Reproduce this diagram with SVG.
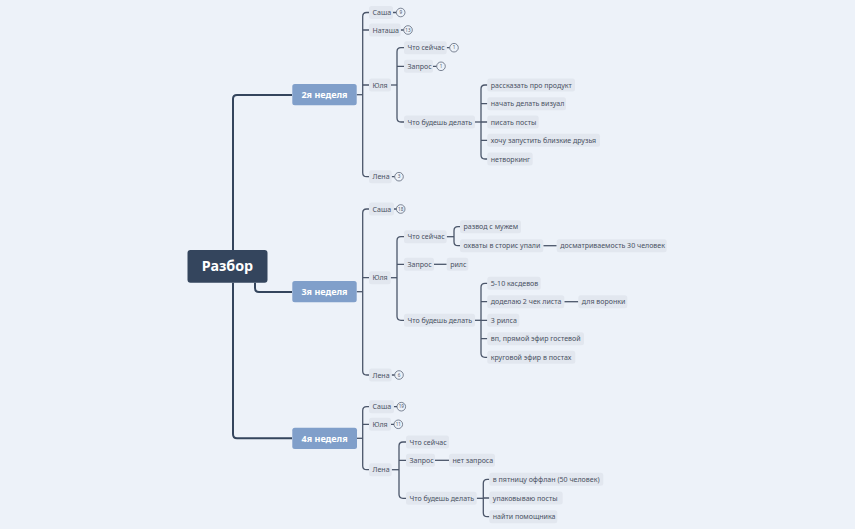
<svg xmlns="http://www.w3.org/2000/svg" width="855" height="529" viewBox="0 0 855 529">
<style>
.bg{fill:#edf2f9}
.n rect{fill:#e2e7ef}
.n text{font-family:"Noto Sans","Open Sans",sans-serif;font-size:7.05px;fill:#4a5263}
.w rect{fill:#809fca}
.w text{font-family:"Noto Sans","Open Sans",sans-serif;font-size:9px;font-weight:bold;fill:#ffffff;text-anchor:middle}
.c path{fill:none;stroke:#4b566a;stroke-width:1.3}
.c path.t{stroke:#34455d;stroke-width:2}
.b circle{fill:#edf2f9;stroke:#4b566a;stroke-width:0.7}
.b text{font-family:"Noto Sans",sans-serif;font-size:4.6px;fill:#4b566a;text-anchor:middle}
</style>
<rect class="bg" x="0" y="0" width="855" height="529"/>
<g id="connectors" class="c">
<path class="t" d="M233 250 V99 Q233 95 237 95 H292"/>
<path class="t" d="M255 282.7 V288 Q255 292 259 292 H292"/>
<path class="t" d="M233 282.7 V434 Q233 438.3 237 438.3 H292"/>
<path d="M356.7 94.7 H362.7"/>
<path d="M369 12.5 H366.7 Q362.7 12.5 362.7 16.5 V172.7 Q362.7 176.7 366.7 176.7 H369"/>
<path d="M362.7 30 H369 M362.7 85 H369"/>
<path d="M391 85 H397"/>
<path d="M404 47.7 H401 Q397 47.7 397 51.7 V118 Q397 122 401 122 H404 M397 66.3 H404"/>
<path d="M475 122 H481"/>
<path d="M487.3 85 H485 Q481 85 481 89 V155 Q481 159 485 159 H487.3 M481 103.7 H487.3 M481 122 H487.3 M481 140.3 H487.3"/>
<path d="M393 12.5 H396.4 M400.7 30 H403.7 M446.7 47.7 H449.7 M433 66.3 H436.7 M391.7 176.7 H394.7"/>
<path d="M356.7 291.7 H362.7"/>
<path d="M369 209 H366.7 Q362.7 209 362.7 213 V371 Q362.7 375 366.7 375 H369 M362.7 277.7 H369"/>
<path d="M390.7 277.7 H397"/>
<path d="M404 236.7 H401 Q397 236.7 397 240.7 V316.3 Q397 320.3 401 320.3 H404 M397 264.3 H404"/>
<path d="M446.7 236.7 H454"/>
<path d="M460 226.7 H458 Q454 226.7 454 230.7 V241.7 Q454 245.7 458 245.7 H460"/>
<path d="M543.3 245.7 H556.7"/>
<path d="M434 264.3 H446.7"/>
<path d="M475 320.3 H481"/>
<path d="M487.3 283.3 H485 Q481 283.3 481 287.3 V353.3 Q481 357.3 485 357.3 H487.3 M481 301.7 H487.3 M481 320.3 H487.3 M481 338.7 H487.3"/>
<path d="M564.3 301.7 H578.3"/>
<path d="M394 209 H396.4 M391.7 375 H394.7"/>
<path d="M357 438.3 H362.7"/>
<path d="M369 406.7 H366.7 Q362.7 406.7 362.7 410.7 V465.7 Q362.7 469.7 366.7 469.7 H369 M362.7 424.3 H369"/>
<path d="M391.7 469.7 H399"/>
<path d="M406 442 H403 Q399 442 399 446 V494.3 Q399 498.3 403 498.3 H406 M399 460.3 H406"/>
<path d="M435 460.3 H449"/>
<path d="M476.7 498.3 H483.3"/>
<path d="M489.3 479.3 H487.3 Q483.3 479.3 483.3 483.3 V512.7 Q483.3 516.7 487.3 516.7 H489.3 M483.3 498 H489.3"/>
<path d="M394 406.7 H397 M391 424.3 H394"/>
</g>
<g id="root"><rect x="187.5" y="250" width="80" height="32.7" rx="3" fill="#34455d"/><text x="227.5" y="271.3" font-family="Noto Sans,Open Sans,sans-serif" font-size="14.3" font-weight="bold" fill="#ffffff" text-anchor="middle">Разбор</text></g>
<g id="w2" class="w"><rect x="292.3" y="84" width="64.4" height="21.3" rx="2.5"/><text x="324.5" y="97.9">2я неделя</text></g>
<g id="w3" class="w"><rect x="292.3" y="281" width="64.4" height="21.3" rx="2.5"/><text x="324.5" y="294.9">3я неделя</text></g>
<g id="w4" class="w"><rect x="292.3" y="427.7" width="64.7" height="21.3" rx="2.5"/><text x="324.6" y="441.6">4я неделя</text></g>
<g id="w2-sasha" class="n"><rect x="369" y="6" width="24" height="13" rx="2.5"/><text x="372.5" y="15">Саша</text></g>
<g id="w2-natasha" class="n"><rect x="369" y="23.5" width="31.7" height="13" rx="2.5"/><text x="372.5" y="32.5">Наташа</text></g>
<g id="w2-yulya" class="n"><rect x="369" y="78.5" width="22" height="13" rx="2.5"/><text x="372.5" y="87.5">Юля</text></g>
<g id="w2-yulya-now" class="n"><rect x="404" y="41.2" width="42.7" height="13" rx="2.5"/><text x="407.5" y="50.2">Что сейчас</text></g>
<g id="w2-yulya-req" class="n"><rect x="404" y="59.8" width="29" height="13" rx="2.5"/><text x="407.5" y="68.8">Запрос</text></g>
<g id="w2-yulya-do" class="n"><rect x="404" y="115.5" width="71" height="13" rx="2.5"/><text x="407.5" y="124.5">Что будешь делать</text></g>
<g id="w2-do1" class="n"><rect x="487.3" y="78.5" width="87.7" height="13" rx="2.5"/><text x="490.8" y="87.5">рассказать про продукт</text></g>
<g id="w2-do2" class="n"><rect x="487.3" y="97.2" width="78.7" height="13" rx="2.5"/><text x="490.8" y="106.2">начать делать визуал</text></g>
<g id="w2-do3" class="n"><rect x="487.3" y="115.5" width="51.4" height="13" rx="2.5"/><text x="490.8" y="124.5">писать посты</text></g>
<g id="w2-do4" class="n"><rect x="487.3" y="133.8" width="112.7" height="13" rx="2.5"/><text x="490.8" y="142.8">хочу запустить близкие друзья</text></g>
<g id="w2-do5" class="n"><rect x="487.3" y="152.5" width="45.4" height="13" rx="2.5"/><text x="490.8" y="161.5">нетворкинг</text></g>
<g id="w2-lena" class="n"><rect x="369" y="170.2" width="22.7" height="13" rx="2.5"/><text x="372.5" y="179.2">Лена</text></g>
<g id="badges-w2" class="b">
<circle cx="400.7" cy="12.5" r="4.3"/><text x="400.7" y="14.2">9</text>
<circle cx="408" cy="30" r="4.3"/><text x="408" y="31.7">13</text>
<circle cx="454" cy="47.7" r="4.3"/><text x="454" y="49.4">1</text>
<circle cx="441" cy="66.3" r="4.3"/><text x="441" y="68">1</text>
<circle cx="399" cy="176.7" r="4.3"/><text x="399" y="178.4">3</text>
</g>
<g id="w3-sasha" class="n"><rect x="369" y="202.5" width="25" height="13" rx="2.5"/><text x="372.5" y="211.5">Саша</text></g>
<g id="w3-yulya" class="n"><rect x="369" y="271.2" width="21.7" height="13" rx="2.5"/><text x="372.5" y="280.2">Юля</text></g>
<g id="w3-yulya-now" class="n"><rect x="404" y="230.2" width="42.7" height="13" rx="2.5"/><text x="407.5" y="239.2">Что сейчас</text></g>
<g id="w3-now1" class="n"><rect x="460" y="220.2" width="61" height="13" rx="2.5"/><text x="463.5" y="229.2">развод с мужем</text></g>
<g id="w3-now2" class="n"><rect x="460" y="239.2" width="83.3" height="13" rx="2.5"/><text x="463.5" y="248.2">охваты в сторис упали</text></g>
<g id="w3-now2a" class="n"><rect x="556.7" y="239.2" width="110" height="13" rx="2.5"/><text x="560.2" y="248.2">досматриваемость 30 человек</text></g>
<g id="w3-yulya-req" class="n"><rect x="404" y="257.8" width="30" height="13" rx="2.5"/><text x="407.5" y="266.8">Запрос</text></g>
<g id="w3-req1" class="n"><rect x="446.7" y="257.8" width="21.6" height="13" rx="2.5"/><text x="450.2" y="266.8">рилс</text></g>
<g id="w3-yulya-do" class="n"><rect x="404" y="313.8" width="71" height="13" rx="2.5"/><text x="407.5" y="322.8">Что будешь делать</text></g>
<g id="w3-do1" class="n"><rect x="487.3" y="276.8" width="53.4" height="13" rx="2.5"/><text x="490.8" y="285.8">5-10 касдевов</text></g>
<g id="w3-do2" class="n"><rect x="487.3" y="295.2" width="77" height="13" rx="2.5"/><text x="490.8" y="304.2">доделаю 2 чек листа</text></g>
<g id="w3-do2a" class="n"><rect x="578.3" y="295.2" width="49" height="13" rx="2.5"/><text x="581.8" y="304.2">для воронки</text></g>
<g id="w3-do3" class="n"><rect x="487.3" y="313.8" width="32" height="13" rx="2.5"/><text x="490.8" y="322.8">3 рилса</text></g>
<g id="w3-do4" class="n"><rect x="487.3" y="332.2" width="96.7" height="13" rx="2.5"/><text x="490.8" y="341.2">вп, прямой эфир гостевой</text></g>
<g id="w3-do5" class="n"><rect x="487.3" y="350.8" width="88" height="13" rx="2.5"/><text x="490.8" y="359.8">круговой эфир в постах</text></g>
<g id="w3-lena" class="n"><rect x="369" y="368.5" width="22.7" height="13" rx="2.5"/><text x="372.5" y="377.5">Лена</text></g>
<g id="badges-w3" class="b">
<circle cx="400.7" cy="209" r="4.3"/><text x="400.7" y="210.7">18</text>
<circle cx="399" cy="375" r="4.3"/><text x="399" y="376.7">6</text>
</g>
<g id="w4-sasha" class="n"><rect x="369" y="400.2" width="25" height="13" rx="2.5"/><text x="372.5" y="409.2">Саша</text></g>
<g id="w4-yulya" class="n"><rect x="369" y="417.8" width="22" height="13" rx="2.5"/><text x="372.5" y="426.8">Юля</text></g>
<g id="w4-lena" class="n"><rect x="369" y="463.2" width="22.7" height="13" rx="2.5"/><text x="372.5" y="472.2">Лена</text></g>
<g id="w4-lena-now" class="n"><rect x="406" y="435.5" width="43" height="13" rx="2.5"/><text x="409.5" y="444.5">Что сейчас</text></g>
<g id="w4-lena-req" class="n"><rect x="406" y="453.8" width="29" height="13" rx="2.5"/><text x="409.5" y="462.8">Запрос</text></g>
<g id="w4-req1" class="n"><rect x="449" y="453.8" width="46" height="13" rx="2.5"/><text x="452.5" y="462.8">нет запроса</text></g>
<g id="w4-lena-do" class="n"><rect x="406" y="491.8" width="70.7" height="13" rx="2.5"/><text x="409.5" y="500.8">Что будешь делать</text></g>
<g id="w4-do1" class="n"><rect x="489.3" y="472.8" width="114" height="13" rx="2.5"/><text x="492.8" y="481.8">в пятницу оффлан (50 человек)</text></g>
<g id="w4-do2" class="n"><rect x="489.3" y="491.5" width="73.4" height="13" rx="2.5"/><text x="492.8" y="500.5">упаковываю посты</text></g>
<g id="w4-do3" class="n"><rect x="489.3" y="510.2" width="68" height="13" rx="2.5"/><text x="492.8" y="519.2">найти помощника</text></g>
<g id="badges-w4" class="b">
<circle cx="401.3" cy="406.7" r="4.3"/><text x="401.3" y="408.4">19</text>
<circle cx="398.3" cy="424.3" r="4.3"/><text x="398.3" y="426">11</text>
</g>
</svg>
